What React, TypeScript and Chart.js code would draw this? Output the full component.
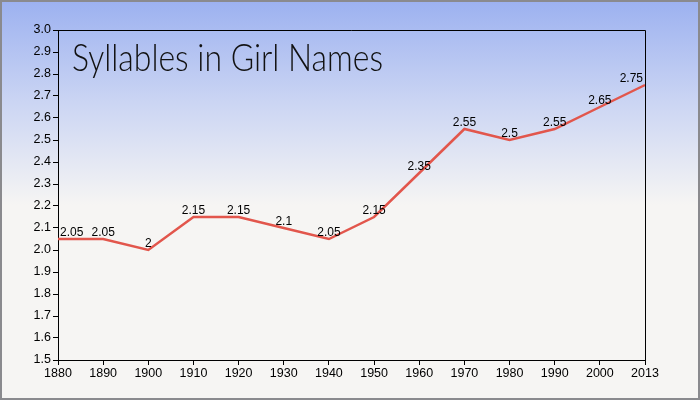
import React, { useEffect, useRef } from "react";
import { Chart, registerables } from "chart.js";

Chart.register(...registerables);

const years = ["1880", "1890", "1900", "1910", "1920", "1930", "1940", "1950", "1960", "1970", "1980", "1990", "2000", "2013"];
const syllables = [2.05, 2.05, 2, 2.15, 2.15, 2.1, 2.05, 2.15, 2.35, 2.55, 2.5, 2.55, 2.65, 2.75];
const yMin = 1.5;
const yMax = 3.0;
const yStep = 0.1;
const titleText = "Syllables in Girl Names";

const backgroundPlugin = {
  id: "bgGradient",
  beforeDraw(chart: any) {
    const { ctx, width, height } = chart;
    ctx.save();
    const g = ctx.createLinearGradient(0, 0, 0, 205);
    g.addColorStop(0, "#9cb1f0");
    g.addColorStop(0.5, "#cbd5f3");
    g.addColorStop(1, "#f6f5f3");
    ctx.fillStyle = "#f6f5f3";
    ctx.fillRect(0, 0, width, height);
    ctx.fillStyle = g;
    ctx.fillRect(0, 0, width, 205);
    ctx.restore();
  },
  afterDraw(chart: any) {
    const { ctx, width, height, chartArea } = chart;
    ctx.save();
    ctx.strokeStyle = "#000";
    ctx.lineWidth = 1;
    ctx.beginPath();
    ctx.moveTo(chartArea.left, chartArea.top + 0.5);
    ctx.lineTo(chartArea.right + 0.5, chartArea.top + 0.5);
    ctx.lineTo(chartArea.right + 0.5, chartArea.bottom);
    ctx.stroke();
    ctx.strokeStyle = "#8a8a8e";
    ctx.lineWidth = 2;
    ctx.strokeRect(1, 1, width - 2, height - 2);
    // title, condensed horizontally to match the reference's narrow face
    ctx.fillStyle = "#111";
    ctx.font = "300 37px Lato";
    ctx.textBaseline = "alphabetic";
    ctx.textAlign = "left";
    const tw = ctx.measureText(titleText).width;
    const sx = 311 / tw;
    ctx.translate(chartArea.left + 14, 71);
    ctx.scale(sx, 1);
    ctx.fillText(titleText, 0, 0);
    ctx.restore();
  },
};

const labelPlugin = {
  id: "pointLabels",
  afterDatasetsDraw(chart: any) {
    const { ctx, chartArea } = chart;
    const meta = chart.getDatasetMeta(0);
    const data = chart.data.datasets[0].data;
    ctx.save();
    ctx.font = "12px 'Liberation Sans'";
    ctx.fillStyle = "#000";
    ctx.textAlign = "left";
    ctx.textBaseline = "alphabetic";
    meta.data.forEach((pt: any, i: number) => {
      const txt = String(data[i]);
      const w = ctx.measureText(txt).width;
      let x = pt.x - w / 2;
      if (x < chartArea.left + 2) x = chartArea.left + 2;
      if (x + w > chartArea.right - 2) x = chartArea.right - 2 - w;
      ctx.fillText(txt, x, pt.y - 3);
    });
    ctx.restore();
  },
};

export default function App() {
  const ref = useRef<HTMLCanvasElement>(null);
  useEffect(() => {
    if (!ref.current) return;
    const chart = new Chart(ref.current, {
      type: "line",
      data: {
        labels: years,
        datasets: [
          {
            data: syllables,
            borderColor: "#e2564c",
            borderWidth: 2.5,
            pointRadius: 0,
            tension: 0,
            fill: false,
          },
        ],
      },
      options: {
        animation: false,
        responsive: false,
        devicePixelRatio: 1,
        layout: { padding: { left: 0, top: 30, right: 55, bottom: 0 } },
        plugins: { legend: { display: false }, tooltip: { enabled: false }, title: { display: false } },
        scales: {
          x: {
            type: "category",
            offset: false,
            afterFit(scale: any) {
              scale.height = 40;
            },
            border: { color: "#000", width: 1 },
            grid: { drawOnChartArea: false, tickLength: 5, color: "#000" },
            ticks: {
              autoSkip: false,
              maxRotation: 0,
              color: "#000",
              padding: 1,
              font: { family: "'Liberation Sans'", size: 12.5 },
            },
          },
          y: {
            min: yMin,
            max: yMax,
            afterFit(scale: any) {
              scale.width = 58;
            },
            border: { color: "#000", width: 1 },
            grid: { drawOnChartArea: false, tickLength: 5, color: "#000" },
            ticks: {
              stepSize: yStep,
              color: "#000",
              padding: 2,
              font: { family: "'Liberation Sans'", size: 12.5 },
              callback: (v: any) => Number(v).toFixed(1),
            },
          },
        },
      },
      plugins: [backgroundPlugin, labelPlugin],
    });
    return () => chart.destroy();
  }, []);
  return (
    <div style={{ position: "fixed", left: 0, top: 0, width: 700, height: 400 }}>
      <canvas ref={ref} width={700} height={400} style={{ display: "block" }} />
    </div>
  );
}
